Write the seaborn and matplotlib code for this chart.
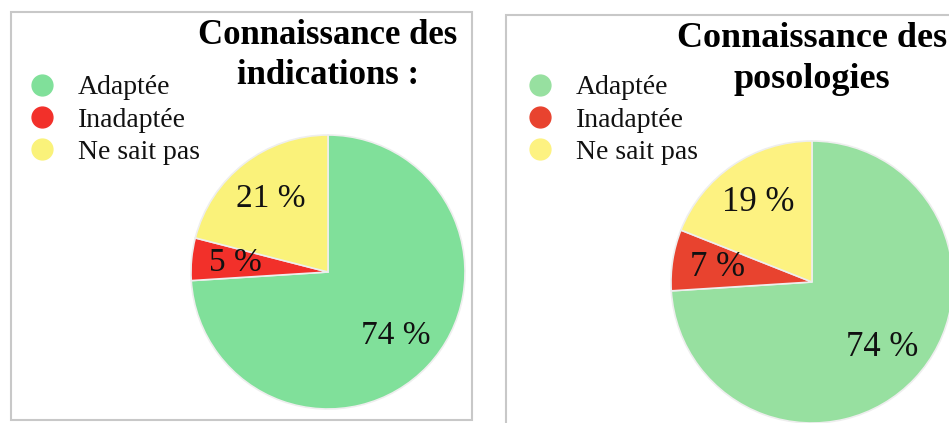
import matplotlib
matplotlib.use("Agg")
import matplotlib.pyplot as plt
from matplotlib.lines import Line2D
from matplotlib.patches import Rectangle
import seaborn as sns

sns.set_theme(style="white")
plt.rcParams['font.family'] = ['Liberation Serif', 'DejaVu Serif']
plt.rcParams['text.color'] = '#000000'

categories = ["Adaptée", "Inadaptée", "Ne sait pas"]
indications = [74, 5, 21]
posologies = [74, 7, 19]
titles = ["Connaissance des\nindications :", "Connaissance des\nposologies"]
colors_left = ["#80E09A", "#F2302A", "#FAF27A"]
colors_right = ["#97E0A0", "#E8432F", "#FDF281"]

W, H = 949, 423
fig = plt.figure(figsize=(W / 100, H / 100), dpi=100)
fig.patch.set_facecolor("white")

def px_axes(cx, cy, r):
    return fig.add_axes([(cx - r) / W, (H - cy - r) / H, 2 * r / W, 2 * r / H])

# panel borders
fig.patches.append(Rectangle((11 / W, (H - 420) / H), 461 / W, 408 / H,
                             transform=fig.transFigure, fill=False,
                             edgecolor="#C8C8C8", linewidth=1.5))
fig.patches.append(Rectangle((506 / W, -0.05), 0.6, (H - 15) / H + 0.05,
                             transform=fig.transFigure, fill=False,
                             edgecolor="#C8C8C8", linewidth=1.5))

panels = [
    dict(vals=indications, cols=colors_left, cx=328, cy=272, r=137, title=titles[0],
         tfs=25, lfs=24, leg=(28, 75), ty=19),
    dict(vals=posologies, cols=colors_right, cx=812, cy=282, r=141, title=titles[1],
         tfs=26, lfs=25, leg=(526, 75), ty=22),
]

for p in panels:
    ax = px_axes(p["cx"], p["cy"], p["r"])
    ax.pie(p["vals"], colors=p["cols"], startangle=90, counterclock=False,
           radius=1, autopct=lambda v: f"{round(v)} %", pctdistance=0.68,
           wedgeprops=dict(edgecolor="#EEEEEE", linewidth=1.2),
           textprops=dict(fontsize=p["lfs"], color="#111111"))
    ax.set_xlim(-1, 1)
    ax.set_ylim(-1, 1)
    ax.set_aspect("equal")
    ax.axis("off")
    fig.text(p["cx"] / W, 1 - p["ty"] / H, p["title"], ha="center", va="top",
             fontsize=p["tfs"], fontweight="bold", linespacing=1.3, color="#000000")
    handles = [Line2D([], [], marker="o", linestyle="", markersize=15,
                      markerfacecolor=c, markeredgecolor=c) for c in p["cols"]]
    fig.legend(handles, categories, loc="upper left",
               bbox_to_anchor=(p["leg"][0] / W, 1 - p["leg"][1] / H),
               frameon=False, fontsize=20, handlelength=1.0, handletextpad=0.8,
               labelspacing=0.25, borderpad=0, borderaxespad=0,
               labelcolor="#111111")

fig.savefig("out.png", dpi=100, facecolor="white")
